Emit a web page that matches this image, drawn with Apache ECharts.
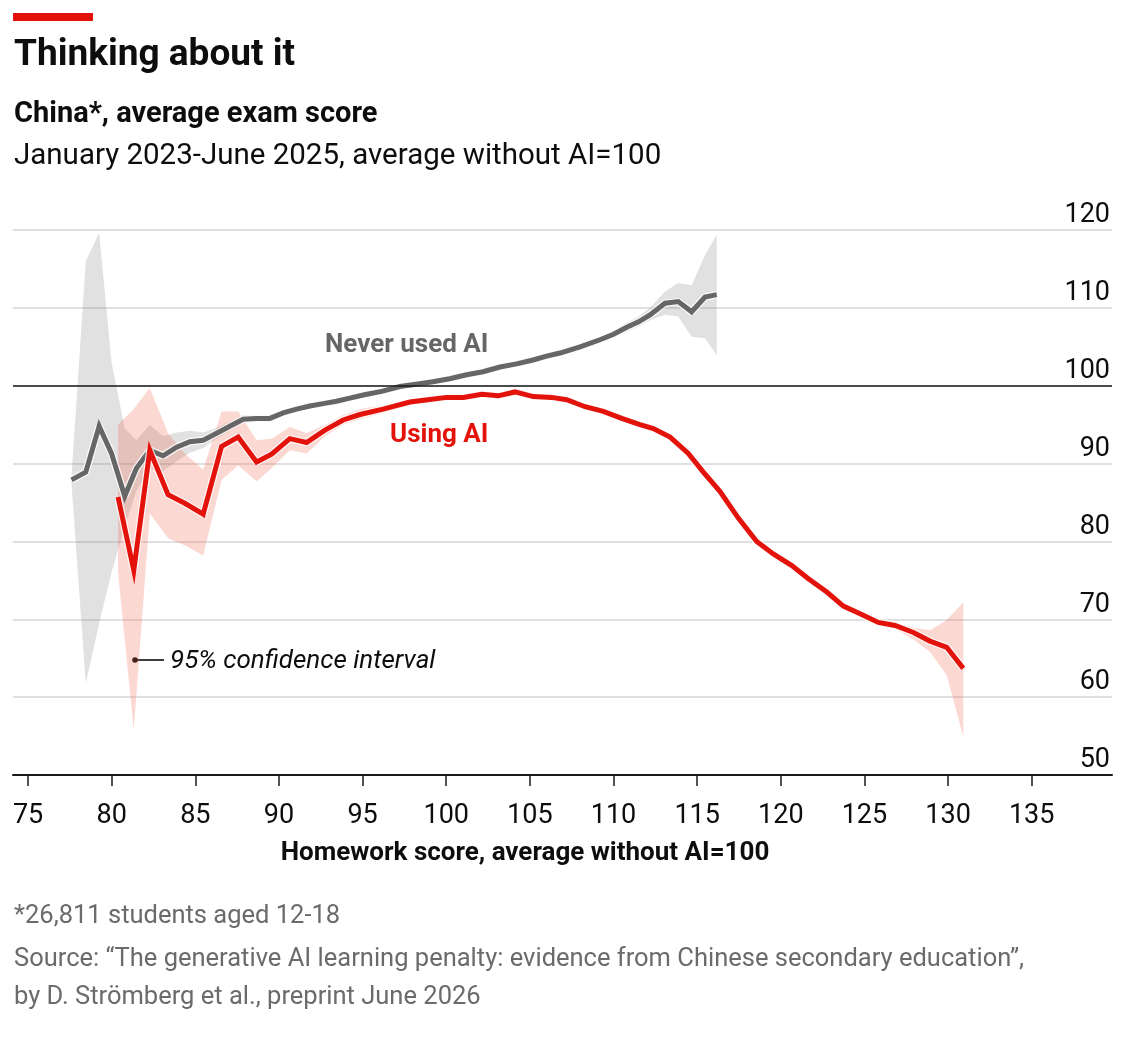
<!DOCTYPE html>
<html>
<head>
<meta charset="utf-8">
<script src="https://cdn.jsdelivr.net/npm/echarts@6/dist/echarts.min.js"></script>
<style>
  html, body { margin: 0; padding: 0; background: #fff; }
  #main { width: 1134px; height: 1038px; }
</style>
</head>
<body>
<div id="main"></div>
<script>
// homework score (x) and exam score (y), average without AI = 100
var neverX = [77.6, 78.45, 79.25, 79.99, 80.78, 81.48, 82.28, 83.07, 83.88, 84.67, 85.47, 86.27, 87.06, 87.86, 88.66, 89.46, 90.25, 91.05, 91.85, 92.64, 93.44, 94.24, 95.04, 96.2, 97.23, 98.2, 99.2, 100.2, 101.22, 102.2, 103.21, 104.2, 105.19, 106.0, 106.8, 108.0, 109.19, 110.0, 110.79, 111.5, 112.18, 113.08, 113.87, 114.67, 115.47, 116.17];
var neverY = [87.9, 88.9, 94.8, 91.3, 85.8, 89.4, 91.7, 91.0, 92.1, 92.8, 93.0, 93.9, 94.8, 95.7, 95.8, 95.8, 96.5, 97.0, 97.4, 97.7, 98.0, 98.4, 98.8, 99.3, 99.9, 100.2, 100.5, 100.9, 101.4, 101.8, 102.4, 102.8, 103.3, 103.8, 104.2, 105.0, 105.9, 106.6, 107.5, 108.2, 109.1, 110.6, 110.8, 109.5, 111.4, 111.7];
var neverHi = [88.5, 116.0, 119.6, 103.0, 94.5, 93.0, 95.0, 93.5, 94.0, 94.2, 94.0, 94.6, 95.4, 96.2, 96.2, 96.2, 96.9, 97.4, 97.8, 98.1, 98.4, 98.8, 99.2, 99.7, 100.3, 100.6, 100.9, 101.3, 101.8, 102.2, 102.8, 103.2, 103.7, 104.2, 104.6, 105.4, 106.3, 107.1, 108.1, 108.9, 110.0, 112.1, 113.2, 112.9, 116.8, 119.4];
var neverLo = [87.3, 61.8, 69.5, 76.0, 81.9, 86.5, 89.3, 89.0, 90.3, 91.4, 92.0, 93.2, 94.2, 95.2, 95.4, 95.4, 96.1, 96.6, 97.0, 97.3, 97.6, 98.0, 98.4, 98.9, 99.5, 99.8, 100.1, 100.5, 101.0, 101.4, 102.0, 102.4, 102.9, 103.4, 103.8, 104.6, 105.5, 106.1, 106.9, 107.6, 108.4, 109.1, 108.9, 106.3, 106.1, 103.9];

var usingX = [80.38, 81.32, 82.28, 83.37, 84.37, 85.47, 86.57, 87.56, 88.66, 89.56, 90.65, 91.65, 92.75, 93.84, 94.84, 96.23, 97.83, 98.9, 100.02, 101.02, 102.12, 103.11, 104.11, 105.2, 106.3, 107.2, 108.3, 109.39, 110.49, 111.58, 112.38, 113.38, 114.47, 115.37, 116.37, 117.46, 118.56, 119.55, 120.66, 121.65, 122.75, 123.74, 124.74, 125.83, 126.83, 127.93, 128.92, 129.92, 130.91];
var usingY = [85.7, 76.3, 91.7, 86.0, 84.9, 83.5, 92.2, 93.4, 90.2, 91.2, 93.2, 92.7, 94.3, 95.6, 96.3, 97.0, 97.9, 98.2, 98.5, 98.5, 98.9, 98.7, 99.2, 98.6, 98.5, 98.2, 97.3, 96.7, 95.8, 95.0, 94.5, 93.4, 91.3, 88.9, 86.4, 83.0, 80.0, 78.4, 76.9, 75.2, 73.5, 71.7, 70.7, 69.6, 69.2, 68.3, 67.2, 66.4, 63.7];
var usingHi = [95.0, 97.0, 99.7, 93.9, 91.3, 89.2, 96.7, 96.7, 93.0, 93.2, 94.7, 93.9, 95.0, 96.2, 97.0, 97.5, 98.3, 98.6, 98.9, 98.9, 99.3, 99.1, 99.6, 99.0, 98.9, 98.6, 97.7, 97.1, 96.2, 95.4, 94.9, 93.8, 91.7, 89.3, 86.8, 83.4, 80.4, 78.8, 77.3, 75.6, 73.9, 72.1, 71.1, 70.0, 69.6, 68.9, 68.6, 69.9, 72.2];
var usingLo = [76.0, 55.8, 83.6, 80.4, 79.5, 78.2, 87.9, 89.8, 87.7, 89.4, 91.7, 91.3, 93.5, 95.0, 95.7, 96.5, 97.5, 97.8, 98.1, 98.1, 98.5, 98.3, 98.8, 98.2, 98.1, 97.8, 96.9, 96.3, 95.4, 94.6, 94.1, 93.0, 90.9, 88.5, 86.0, 82.6, 79.6, 78.0, 76.5, 74.8, 73.1, 71.3, 70.3, 69.2, 68.8, 67.4, 65.8, 62.8, 54.9];

var xTicks = [75, 80, 85, 90, 95, 100, 105, 110, 115, 120, 125, 130, 135];

var RED = '#e3120b';
var GREY = '#666666';
var FONT = 'Roboto, "Noto Sans", sans-serif';

function pairs(xs, ys) {
    return xs.map(function (x, i) { return [x, ys[i]]; });
}

// confidence band: one polygon, upper edge then lower edge backwards
function band(xs, lo, hi, fill) {
    return {
        type: 'custom',
        silent: true,
        data: xs.map(function (x, i) { return [x, lo[i], hi[i]]; }),
        encode: { x: 0, y: [1, 2] },
        renderItem: function (params, api) {
            if (params.dataIndex !== 0) return null;
            var pts = [];
            for (var i = 0; i < xs.length; i++) pts.push(api.coord([xs[i], hi[i]]));
            for (var j = xs.length - 1; j >= 0; j--) pts.push(api.coord([xs[j], lo[j]]));
            return {
                type: 'polygon',
                shape: { points: pts },
                style: { fill: fill }
            };
        }
    };
}

var chart = echarts.init(document.getElementById('main'));

var option = {
    backgroundColor: '#fff',
    animation: false,
    grid: {
        left: 13,
        right: 22,
        top: 230,
        bottom: 263,
        containLabel: false,
        outerBoundsMode: 'none'
    },
    xAxis: {
        type: 'value',
        min: 74.1,
        max: 139.8,
        axisLine: { show: true, lineStyle: { color: '#1a1a1a', width: 2 } },
        axisTick: {
            show: true,
            customValues: xTicks,
            length: 11,
            lineStyle: { color: '#1a1a1a', width: 1.5 }
        },
        axisLabel: {
            customValues: xTicks,
            margin: 28,
            fontSize: 27,
            fontFamily: FONT,
            color: '#0d0d0d'
        },
        splitLine: { show: false }
    },
    yAxis: {
        type: 'value',
        position: 'right',
        min: 50,
        max: 120,
        interval: 10,
        axisLine: { show: false },
        axisTick: { show: false },
        axisLabel: {
            inside: true,
            margin: 2,
            verticalAlign: 'bottom',
            padding: [0, 0, 1, 0],
            fontSize: 27,
            fontFamily: FONT,
            color: '#0d0d0d'
        },
        splitLine: { lineStyle: { color: '#d6d6d6', width: 1.6 } }
    },
    series: [
        band(neverX, neverLo, neverHi, 'rgba(128,128,128,0.24)'),
        band(usingX, usingLo, usingHi, 'rgba(245,100,80,0.25)'),
        // lines, with a thin white halo
        {
            type: 'line', symbol: 'none', silent: true,
            lineStyle: { color: 'rgba(255,255,255,0.8)', width: 7.5 },
            data: pairs(neverX, neverY)
        },
        {
            name: 'Never used AI',
            type: 'line', symbol: 'none',
            lineStyle: { color: GREY, width: 5, join: 'miter' },
            data: pairs(neverX, neverY),
            markLine: {
                silent: true,
                symbol: 'none',
                label: { show: false },
                lineStyle: { color: '#1a1a1a', width: 1.6, type: 'solid' },
                data: [{ yAxis: 100 }]
            }
        },
        {
            type: 'line', symbol: 'none', silent: true,
            lineStyle: { color: 'rgba(255,255,255,0.8)', width: 7.5 },
            data: pairs(usingX, usingY)
        },
        {
            name: 'Using AI',
            type: 'line', symbol: 'none',
            lineStyle: { color: RED, width: 5, join: 'miter' },
            data: pairs(usingX, usingY)
        }
    ],
    graphic: [
        { type: 'rect', left: 13, top: 13, shape: { width: 80, height: 8 }, style: { fill: RED } },
        {
            type: 'text', x: 14, y: 56,
            style: { text: 'Thinking about it', font: 'bold 37px ' + FONT, fill: '#0d0d0d', verticalAlign: 'middle' }
        },
        {
            type: 'text', x: 14, y: 115,
            style: { text: 'China*, average exam score', font: 'bold 29px ' + FONT, fill: '#0d0d0d', verticalAlign: 'middle' }
        },
        {
            type: 'text', x: 14, y: 157,
            style: { text: 'January 2023-June 2025, average without AI=100', font: '29.5px ' + FONT, fill: '#0d0d0d', verticalAlign: 'middle' }
        },
        {
            type: 'text', x: 325, y: 345,
            style: { text: 'Never used AI', font: 'bold 26px ' + FONT, fill: GREY, verticalAlign: 'middle' }
        },
        {
            type: 'text', x: 390, y: 435,
            style: { text: 'Using AI', font: 'bold 26px ' + FONT, fill: RED, verticalAlign: 'middle' }
        },
        { type: 'circle', shape: { cx: 135, cy: 660, r: 2.8 }, style: { fill: '#0d0d0d' } },
        { type: 'line', shape: { x1: 135, y1: 660, x2: 164, y2: 660 }, style: { stroke: '#0d0d0d', lineWidth: 1.6 } },
        {
            type: 'text', x: 170, y: 661,
            style: { text: '95% confidence interval', font: 'italic 26px ' + FONT, fill: '#0d0d0d', verticalAlign: 'middle' }
        },
        {
            type: 'text', x: 525, y: 853,
            style: { text: 'Homework score, average without AI=100', font: 'bold 26px ' + FONT, fill: '#0d0d0d', align: 'center', verticalAlign: 'middle' }
        },
        {
            type: 'text', x: 14, y: 917,
            style: { text: '*26,811 students aged 12-18', font: '25.5px ' + FONT, fill: '#6b6b6b', verticalAlign: 'middle' }
        },
        {
            type: 'text', x: 14, y: 960,
            style: { text: 'Source: \u201cThe generative AI learning penalty: evidence from Chinese secondary education\u201d,', font: '25.5px ' + FONT, fill: '#6b6b6b', verticalAlign: 'middle' }
        },
        {
            type: 'text', x: 14, y: 998,
            style: { text: 'by D. Str\u00f6mberg et al., preprint June 2026', font: '25.5px ' + FONT, fill: '#6b6b6b', verticalAlign: 'middle' }
        }
    ]
};

chart.setOption(option);
</script>
</body>
</html>
